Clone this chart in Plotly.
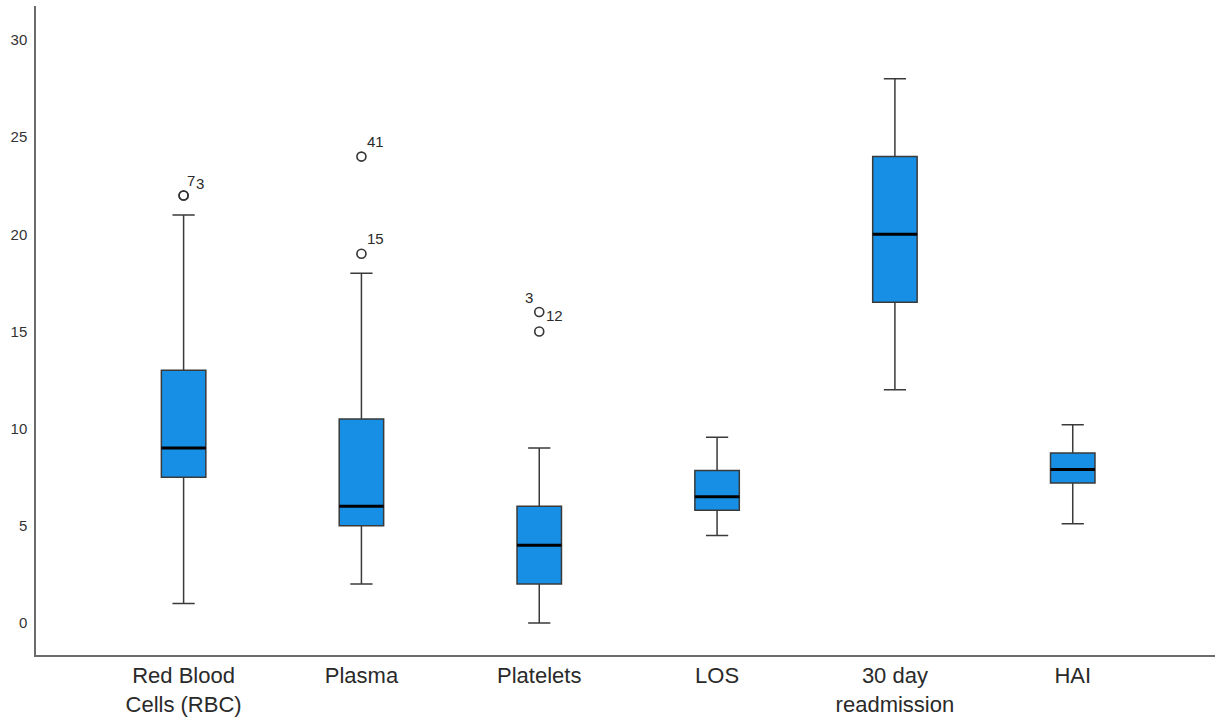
import plotly.graph_objects as go

# Summary statistics per measure
categories = ["Red Blood<br>Cells (RBC)", "Plasma", "Platelets", "LOS",
              "30 day<br>readmission", "HAI"]
lower_whisker = [1.0, 2.0, 0.0, 4.5, 12.0, 5.1]
q1 = [7.5, 5.0, 2.0, 5.8, 16.5, 7.2]
median = [9.0, 6.0, 4.0, 6.5, 20.0, 7.9]
q3 = [13.0, 10.5, 6.0, 7.85, 24.0, 8.75]
upper_whisker = [21.0, 18.0, 9.0, 9.55, 28.0, 10.2]

# Outlying cases: category index, value, case label
outlier_cat = [0, 0, 1, 1, 2, 2]
outlier_val = [22.0, 22.0, 24.0, 19.0, 16.0, 15.0]
outlier_lab = ["7", "3", "41", "15", "3", "12"]

y_ticks = [0, 5, 10, 15, 20, 25, 30]

# styling
label_shift = [(7, 15), (16, 12), (14, 15), (14, 15), (-10, 15), (15, 16)]
box_width = 0.25
font_family = "Liberation Sans, Arial, sans-serif"

xs = list(range(len(categories)))

fig = go.Figure()
fig.add_trace(go.Box(
    x=xs, q1=q1, median=median, q3=q3,
    lowerfence=lower_whisker, upperfence=upper_whisker,
    width=box_width, whiskerwidth=0.5,
    fillcolor="#168fe4",
    line=dict(color="#3a3a3a", width=1.5),
    boxpoints=False, showlegend=False, hoverinfo="skip",
))

# thicker black median lines
for i, m in zip(xs, median):
    fig.add_shape(type="line", xref="x", yref="y",
                  x0=i - box_width / 2, x1=i + box_width / 2, y0=m, y1=m,
                  line=dict(color="#000000", width=3))

fig.add_trace(go.Scatter(
    x=outlier_cat, y=outlier_val, mode="markers",
    marker=dict(symbol="circle-open", size=9,
                line=dict(color="#333333", width=1.6), color="#333333"),
    showlegend=False, hoverinfo="skip",
))

for (c, v, lab), (dx, dy) in zip(zip(outlier_cat, outlier_val, outlier_lab), label_shift):
    fig.add_annotation(x=c, y=v, text=lab, showarrow=False,
                       xshift=dx, yshift=dy,
                       font=dict(family=font_family, size=15, color="#2a2a2a"))

fig.update_layout(
    width=1215, height=717,
    margin=dict(l=36, r=0, t=6, b=62),
    paper_bgcolor="white", plot_bgcolor="white",
    font=dict(family=font_family),
)
fig.update_xaxes(
    range=[-0.83, 5.80], tickvals=xs, ticktext=categories,
    showgrid=False, zeroline=False, ticks="",
    showline=True, linecolor="#6b6b6b", linewidth=1.5,
    tickfont=dict(size=22, color="#2a2a2a"),
)
fig.update_yaxes(
    range=[-1.65, 31.75], tickvals=y_ticks,
    showgrid=False, zeroline=False, ticks="",
    showline=True, linecolor="#6b6b6b", linewidth=1.5,
    tickfont=dict(size=15, color="#333333"), ticklabelstandoff=4,
)

fig.write_html("out.html")
